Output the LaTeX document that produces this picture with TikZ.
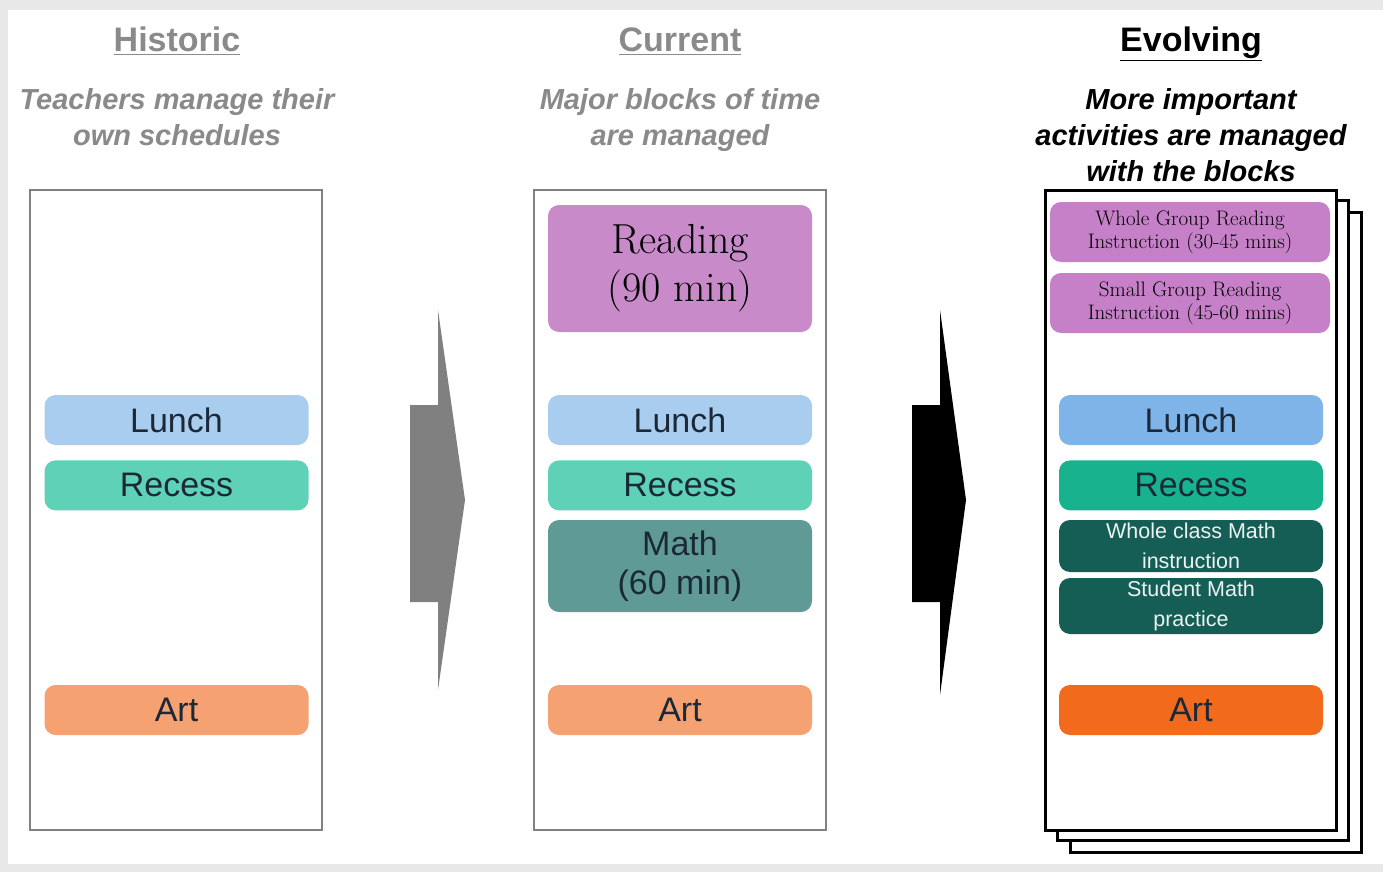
\documentclass[tikz,border=0pt]{standalone}
\usepackage{fontspec}
\setsansfont{Liberation Sans}
\usepackage{xcolor}
\usetikzlibrary{positioning}

\definecolor{bggray}{HTML}{E8E8E8}
\definecolor{framegray}{HTML}{808080}
\definecolor{titlegray}{HTML}{8A8A8A}
\definecolor{bartext}{HTML}{1B2838}
\definecolor{lunchA}{HTML}{A9CDEF}
\definecolor{recessA}{HTML}{5FD1B6}
\definecolor{artA}{HTML}{F5A171}
\definecolor{readA}{HTML}{C98AC9}
\definecolor{mathA}{HTML}{5F9B94}
\definecolor{readB}{HTML}{C680C8}
\definecolor{lunchB}{HTML}{7EB4E8}
\definecolor{recessB}{HTML}{18B38E}
\definecolor{mathB}{HTML}{145E55}
\definecolor{artB}{HTML}{F26B1C}
\definecolor{arrowgray}{HTML}{808080}

\begin{document}
\begin{tikzpicture}[x=1pt, y=-1pt,
  frame/.style={draw=framegray, line width=2pt, fill=white, minimum width=292pt, minimum height=640pt, inner sep=0pt},
  sheet/.style={draw=black, line width=3pt, fill=white, minimum width=291pt, minimum height=640pt, inner sep=0pt},
  bar/.style={rounded corners=11pt, minimum width=264pt, minimum height=50pt, inner sep=0pt, align=center, text=bartext, font=\sffamily\fontsize{34}{39}\selectfont},
  pinkbar/.style={bar, fill=readB, minimum width=280pt, minimum height=60pt, text=black, font=\rmfamily\fontsize{21}{23}\selectfont},
  darkbar/.style={bar, fill=mathB, text=white!92!mathB, font=\sffamily\fontsize{21.5}{30}\selectfont},
  title/.style={anchor=base, inner sep=0pt, font=\sffamily\bfseries\fontsize{34}{40}\selectfont},
  sub/.style={anchor=north, inner sep=0pt, align=center, font=\sffamily\bfseries\itshape\fontsize{29}{36}\selectfont}
]
\useasboundingbox (0,0) rectangle (1383,872);
\fill[bggray] (0,0) rectangle (1383,872);
\fill[white] (8,10) rectangle (1383,864);

% historic
\node[title, text=titlegray] (histT) at (177,52) {\underline{Historic}};
\node[sub, text=titlegray] (histS) at (177,88) {Teachers manage their\\own schedules};
\node[frame] (hist) at (176,510) {};
\node[bar, fill=lunchA] (lunchH) at (176.5,420) {Lunch};
\node[bar, fill=recessA, below=15pt of lunchH] (recessH) {Recess};
\node[bar, fill=artA] (artH) at (176.5,710) {Art};

\fill[arrowgray] (410,405) -- (438,405) -- (438,310) -- (465,500) -- (438,690) -- (438,602) -- (410,602) -- cycle;

% current
\node[title, text=titlegray] (curT) at (680,52) {\underline{Current}};
\node[sub, text=titlegray] (curS) at (680,88) {Major blocks of time\\are managed};
\node[frame] (cur) at (680,510) {};
\node[bar, fill=readA, minimum height=127pt, text=black, font=\rmfamily\fontsize{42}{48}\selectfont] (readC) at (680,268.5) {Reading\\(90 min)};
\node[bar, fill=lunchA] (lunchC) at (680,420) {Lunch};
\node[bar, fill=recessA, below=15pt of lunchC] (recessC) {Recess};
\node[bar, fill=mathA, minimum height=92pt] (mathC) at (680,566) {Math\\(60 min)};
\node[bar, fill=artA] (artC) at (680,710) {Art};

\fill[black] (912,405) -- (940,405) -- (940,310) -- (966,500) -- (940,695) -- (940,602) -- (912,602) -- cycle;

% evolving
\node[title] (evoT) at (1191,52) {\underline{Evolving}};
\node[sub] (evoS) at (1191,88) {More important\\activities are managed\\with the blocks};
\node[sheet] (evo3) at (1215.5,532) {};
\node[sheet] (evo2) at (1203,520) {};
\node[sheet] (evo) at (1191,510) {};
\node[pinkbar] (wholeRead) at (1190,232) {Whole Group Reading\\Instruction (30-45 mins)};
\node[pinkbar] (smallRead) at (1190,303) {Small Group Reading\\Instruction (45-60 mins)};
\node[bar, fill=lunchB] (lunchE) at (1191,420) {Lunch};
\node[bar, fill=recessB, below=15pt of lunchE] (recessE) {Recess};
\node[darkbar, minimum height=52pt] (wholeMath) at (1191,546) {Whole class Math\\instruction};
\node[darkbar, minimum height=56pt] (studMath) at (1191,606) {Student Math\\practice};
\node[bar, fill=artB] (artE) at (1191,710) {Art};
\end{tikzpicture}
\end{document}
